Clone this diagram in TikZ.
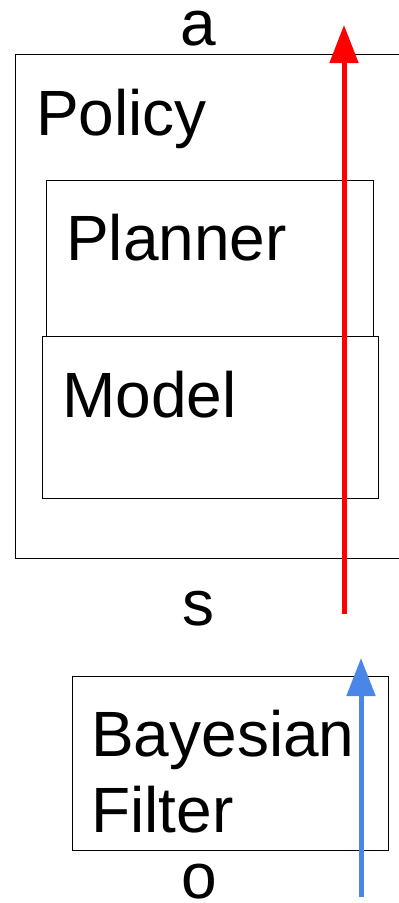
\documentclass[tikz,border=0pt]{standalone}
\usepackage{fontspec}
\setmainfont{Liberation Sans}
\usetikzlibrary{arrows.meta}
\begin{document}
\begin{tikzpicture}[x=1pt,y=-1pt,
  box/.style={draw=black,line width=1.4pt,inner sep=0pt,anchor=north west},
  lbl/.style={font=\fontsize{64}{72}\selectfont,inner sep=0pt,anchor=base west},
  sym/.style={font=\fontsize{64}{72}\selectfont,inner sep=0pt,anchor=base},
  flow/.style={line width=5pt,-{Triangle[length=38pt,width=28pt]}}]
\useasboundingbox (0,0) rectangle (399,903);
\clip (0,0) rectangle (399,903);
% blocks
\node[box,minimum width=395pt,minimum height=504pt] (policy) at (15,54) {};
\node[box,minimum width=327pt,minimum height=160pt] (planner) at (46,180) {};
\node[box,fill=white,minimum width=336pt,minimum height=162pt] (model) at (42,336) {};
\node[box,minimum width=316pt,minimum height=174pt] (filter) at (72,676) {};
% labels
\node[lbl] (tpolicy) at (36,135) {Policy};
\node[lbl] (tplanner) at (66,260) {Planner};
\node[lbl] (tmodel) at (62,417) {Model};
\node[lbl] (tbayes) at (91,756) {Bayesian};
\node[lbl] (tfilt) at (91,832) {Filter};
\node[sym] (ta) at (198,45) {a};
\node[sym] (ts) at (198,625) {s};
\node[sym] (to) at (199,898) {o};
% signal paths
\coordinate (sIn) at (344,614);
\coordinate (aOut) at (344,25);
\coordinate (oIn) at (361,897);
\coordinate (sOut) at (361,658);
\draw[flow,draw=red,fill=red] (sIn) -- (aOut);
\draw[flow,draw={rgb,255:red,74;green,134;blue,232},fill={rgb,255:red,74;green,134;blue,232}] (oIn) -- (sOut);
\end{tikzpicture}
\end{document}
